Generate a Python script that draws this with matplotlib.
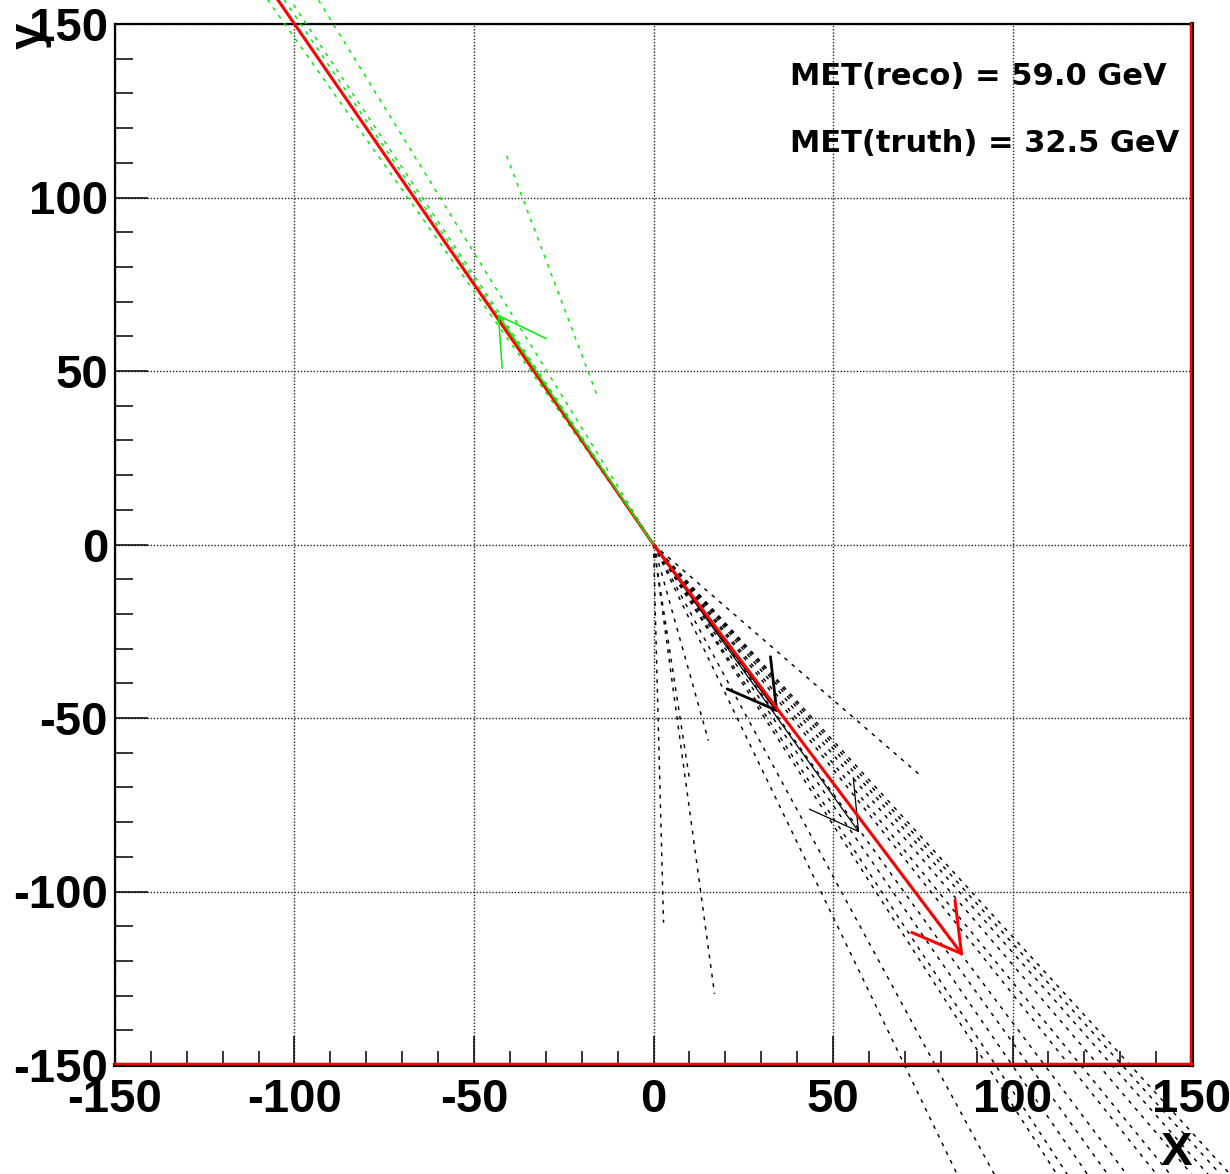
import numpy as np
import matplotlib
matplotlib.use("Agg")
import matplotlib.pyplot as plt
from matplotlib.ticker import MultipleLocator
from matplotlib.lines import Line2D
from matplotlib import transforms

plt.rcParams['font.family'] = ['Liberation Sans', 'DejaVu Sans']
plt.rcParams['font.weight'] = 'bold'
plt.rcParams['axes.unicode_minus'] = False

# ---------------- data ----------------
# black dashed rays (start at origin), end points
black_dash_x = [2.8, 17.0, 10.0, 15.3, 74.4,
                93.2, 104.6, 123.8, 127.0, 133.2, 139.4, 145.2, 154.4, 158.6, 165.2, 170.2, 174.0, 177.0]
black_dash_y = [-109.0, -129.5, -67.5, -56.5, -66.6,
                -200.0, -200.0, -200.0, -200.0, -200.0, -200.0, -200.0, -200.0, -200.0, -200.0, -200.0, -200.0, -200.0]

# green dashed rays / segments (start -> end)
green_dash_x0 = [0.0, 0.0, 0.0, 0.0, -15.9]
green_dash_y0 = [0.0, 0.0, 0.0, 0.0, 43.5]
green_dash_x1 = [-117.8, -112.7, -110.9, -102.3, -40.9]
green_dash_y1 = [172.0, 172.0, 172.0, 172.0, 112.0]

# vectors (arrows from origin)
black_arrow_x = [34.3, 57.1]
black_arrow_y = [-47.8, -82.7]
black_arrow_lw = [2.0, 0.9]

green_arrow = (-43.2, 66.0)
red_arrow = (85.8, -117.9)
red_line_end = (-110.0, 165.0)

met_reco = 59.0
met_truth = 32.5

ticks = [-150, -100, -50, 0, 50, 100, 150]

# ---------------- figure ----------------
W, H = 1230, 1174
fig = plt.figure(figsize=(W / 100, H / 100), dpi=100)
ax = fig.add_axes([115 / W, (H - 1065) / H, (1192 - 115) / W, (1065 - 24) / H])
ax.set_xlim(-150, 150)
ax.set_ylim(-150, 150)

ax.set_xticks(ticks)
ax.set_yticks(ticks)
ax.xaxis.set_minor_locator(MultipleLocator(10))
ax.yaxis.set_minor_locator(MultipleLocator(10))
ax.tick_params(axis='both', which='both', direction='in', top=False, right=False, width=1.1, color='black')
ax.tick_params(axis='y', which='major', length=23.5, labelsize=34, pad=5)
ax.tick_params(axis='y', which='minor', length=13)
ax.tick_params(axis='x', which='major', length=21, labelsize=34, pad=9)
ax.tick_params(axis='x', which='minor', length=10)
for lab in ax.get_xticklabels() + ax.get_yticklabels():
    lab.set_fontweight('bold')

ax.grid(True, which='major', color='#222222', linestyle=(0, (1, 1.3)), linewidth=1.0)
ax.set_axisbelow(True)

for s in ['top', 'left']:
    ax.spines[s].set_linewidth(1.6)
    ax.spines[s].set_color('black')
for s in ['bottom', 'right']:
    ax.spines[s].set_linewidth(3.0)
    ax.spines[s].set_color('black')

# red frame lines inside bottom/right
off_b = transforms.ScaledTranslation(0, 1.2 / 100, fig.dpi_scale_trans)
off_r = transforms.ScaledTranslation(-1.2 / 100, 0, fig.dpi_scale_trans)
ax.add_line(Line2D([0, 1], [0, 0], transform=ax.transAxes + off_b, color='red', lw=1.7, clip_on=False, zorder=6))
ax.add_line(Line2D([1, 1], [0, 1], transform=ax.transAxes + off_r, color='red', lw=1.7, clip_on=False, zorder=6))

# black dashed rays
for x1, y1 in zip(black_dash_x, black_dash_y):
    ax.plot([0, x1], [0, y1], color='black', lw=1.05, linestyle=(0, (2.6, 4.0)), clip_on=False, zorder=3)

# green dashed
for x0, y0, x1, y1 in zip(green_dash_x0, green_dash_y0, green_dash_x1, green_dash_y1):
    ax.plot([x0, x1], [y0, y1], color='#00ee00', lw=1.05, linestyle=(0, (2.6, 4.0)), clip_on=False, zorder=3)


def draw_arrow(x1, y1, color, lw, head_px=54, half_angle=30, zorder=4):
    ax.plot([0, x1], [0, y1], color=color, lw=lw, solid_capstyle='butt', clip_on=False, zorder=zorder)
    p0 = ax.transData.transform((0, 0))
    p1 = ax.transData.transform((x1, y1))
    d = (p0 - p1) / np.hypot(*(p0 - p1))
    inv = ax.transData.inverted()
    for a in (half_angle, -half_angle):
        t = np.deg2rad(a)
        r = np.array([d[0] * np.cos(t) - d[1] * np.sin(t), d[0] * np.sin(t) + d[1] * np.cos(t)])
        e = inv.transform(p1 + head_px * r)
        ax.plot([x1, e[0]], [y1, e[1]], color=color, lw=lw, solid_capstyle='round', clip_on=False, zorder=zorder)


for bx, by, blw in zip(black_arrow_x, black_arrow_y, black_arrow_lw):
    draw_arrow(bx, by, 'black', blw)

# red line (upper left) and red MET arrow
ax.plot([0, red_line_end[0]], [0, red_line_end[1]], color='red', lw=2.2, clip_on=False, zorder=5)
draw_arrow(red_arrow[0], red_arrow[1], 'red', 2.2, zorder=5)
# green truth arrow
draw_arrow(green_arrow[0], green_arrow[1], '#00ee00', 1.1, head_px=53, zorder=6)

# texts
ax.text(0.627, 0.9415, f"MET(reco) = {met_reco:.1f} GeV", transform=ax.transAxes,
        fontsize=22, fontweight='bold', family='DejaVu Sans', ha='left', va='baseline', zorder=7)
ax.text(0.627, 0.877, f"MET(truth) = {met_truth:.1f} GeV", transform=ax.transAxes,
        fontsize=22, fontweight='bold', family='DejaVu Sans', ha='left', va='baseline', zorder=7)

# axis titles
fig.text(30 / W, 1 - 36 / H, "y", rotation=90, fontsize=34, fontweight='bold', ha='center', va='center')
fig.text(1176 / W, 1 - 1153 / H, "X", fontsize=34, fontweight='bold', ha='center', va='center')

fig.savefig("out.png", dpi=100)
